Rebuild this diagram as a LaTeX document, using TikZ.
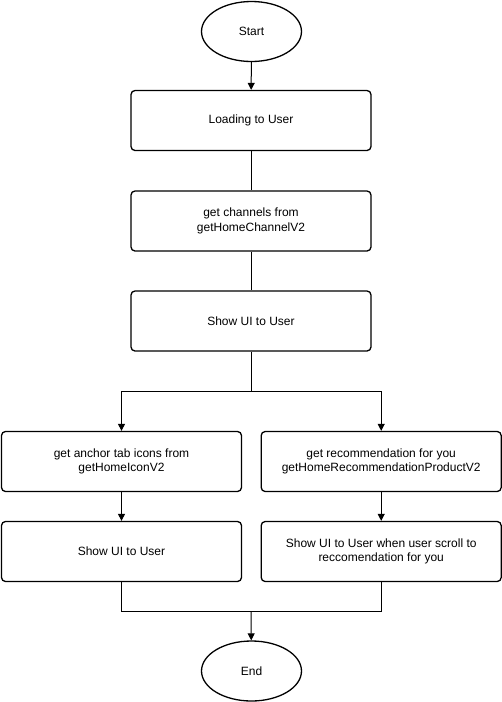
\documentclass[tikz,border=0pt]{standalone}
\usepackage{fontspec}
\setmainfont{Liberation Sans}
\usetikzlibrary{arrows.meta,shapes.geometric}
\begin{document}
\begin{tikzpicture}[x=1pt,y=-1pt,
  every node/.style={font=\fontsize{12}{14.5}\selectfont},
  stepbox/.style={draw, line width=1.3pt, rounded corners=4pt, minimum width=240pt, minimum height=60pt, align=center, inner sep=0pt},
  term/.style={draw, ellipse, line width=1.3pt, minimum width=100pt, minimum height=60pt, inner sep=0pt},
  conn/.style={line width=1pt},
  arr/.style={conn, -{Triangle[length=7pt,width=7pt]}}]
\useasboundingbox (0,0) rectangle (502,702);
\node[term] (start) at (251.5,31.5) {Start};
\node[stepbox] (b1) at (251,120.5) {Loading to User};
\node[stepbox] (b2) at (251,221) {get channels from\\getHomeChannelV2};
\node[stepbox] (b3) at (251,321) {Show UI to User};
\node[stepbox] (l1) at (121.5,461.5) {get anchor tab icons from\\getHomeIconV2};
\node[stepbox] (r1) at (381.2,461.5) {get recommendation for you\\getHomeRecommendationProductV2};
\node[stepbox] (l2) at (121.5,551.5) {Show UI to User};
\node[stepbox] (r2) at (381.2,551.5) {Show UI to User when user scroll to\\reccomendation for you};
\node[term] (end) at (251.5,671) {End};
\coordinate (split) at (251,391);
\coordinate (join) at (251,611);
\draw[arr] (start) -- (b1);
\draw[conn] (b1) -- (b2);
\draw[conn] (b2) -- (b3);
\draw[conn] (b3) -- (split);
\draw[arr] (split) -| (l1);
\draw[arr] (split) -| (r1);
\draw[arr] (l1) -- (l2);
\draw[arr] (r1) -- (r2);
\draw[conn] (l2) |- (join);
\draw[conn] (r2) |- (join);
\draw[arr] (join) -- (end);
\end{tikzpicture}
\end{document}
